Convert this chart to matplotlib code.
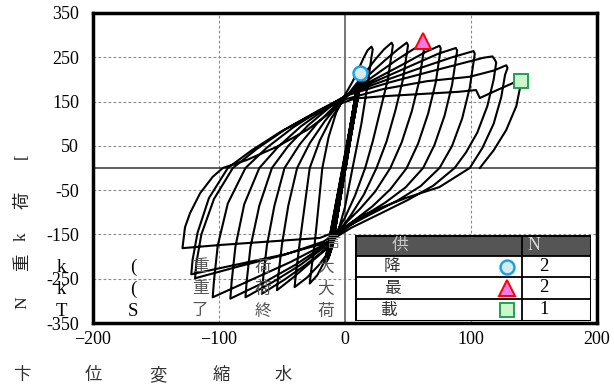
"""
荷重-水平変位 履歴曲線 (hysteresis loops) の再現
"""
import matplotlib
matplotlib.use("Agg")
import matplotlib.pyplot as plt
from matplotlib.patches import Rectangle

W, H = 614, 387

# ---- 履歴データ: 水平変位 [mm] / 荷重 [kN] ----
BAND_X = [0, 9, -10, 10, -11, 11, -12, 12, -13, 12, -14, 13, -15, 12]
BAND_Y = [0, 165, -165, 180, -180, 190, -190, 200, -198, 205, -205, 212, -210, 205]

D0_X = [12, 11, 7, 2, -3, -8, -13, -17, -22, -28]
D0_Y = [205, 185, 120, 40, -40, -120, -185, -215, -242, -261]

U1_X = [-28, -27, -24, -21, -18, -13, -7, 0, 6, 11, 15, 18, 21]
U1_Y = [-261, -235, -170, -85, 0, 70, 125, 165, 195, 225, 250, 266, 274]
D1_X = [21, 22, 21, 18, 13, 6, 0, -6, -13, -21, -30, -40]
D1_Y = [274, 268, 250, 190, 100, 0, -88, -148, -190, -220, -247, -269]

U2_X = [-40, -39, -36, -32, -28, -20, -11, -2, 7, 16, 24, 31, 37]
U2_Y = [-269, -240, -170, -85, 0, 62, 112, 150, 183, 215, 245, 268, 283]
D2_X = [37, 38, 37, 34, 28, 22, 16, 8, 0, -8, -16, -28, -41, -54]
D2_Y = [283, 277, 258, 200, 130, 60, 0, -62, -112, -152, -186, -215, -247, -276]

U3_X = [-54, -53, -50, -45, -38, -28, -16, -4, 8, 20, 32, 42, 49]
U3_Y = [-276, -245, -172, -85, 0, 56, 106, 147, 180, 213, 244, 268, 283]
D3_X = [49, 50, 49, 46, 40, 33, 25, 15, 5, -5, -15, -31, -48, -66]
D3_Y = [283, 277, 258, 200, 130, 60, 0, -60, -105, -145, -182, -218, -252, -284]

U4_X = [-66, -65, -62, -56, -48, -36, -22, -7, 8, 24, 40, 53, 62]
U4_Y = [-284, -250, -175, -85, 0, 53, 101, 143, 178, 210, 242, 266, 281]
D4_X = [62, 63, 62, 59, 53, 45, 36, 24, 12, 1, -8, -17, -36, -57, -79]
D4_Y = [281, 275, 256, 198, 128, 58, 0, -53, -92, -123, -150, -180, -220, -257, -292]

U5_X = [-79, -78, -75, -68, -58, -45, -29, -11, 7, 28, 48, 64, 75]
U5_Y = [-292, -255, -178, -85, 0, 50, 97, 140, 176, 207, 237, 262, 276]
D5_X = [75, 76, 75, 72, 66, 58, 49, 36, 22, 8, -5, -18, -39, -64, -91]
D5_Y = [276, 270, 251, 193, 123, 55, 0, -48, -86, -117, -146, -178, -218, -258, -295]

U6_X = [-91, -90, -87, -80, -68, -53, -35, -14, 6, 30, 54, 74, 88]
U6_Y = [-295, -258, -178, -82, 0, 48, 94, 137, 173, 203, 233, 258, 271]
D6_X = [88, 89, 88, 85, 79, 71, 62, 48, 32, 15, -1, -16, -43, -74, -105]
D6_Y = [271, 265, 246, 188, 118, 52, 0, -44, -78, -108, -140, -172, -212, -252, -292]

U7_X = [-105, -104, -101, -93, -79, -62, -41, -17, 5, 32, 60, 85, 102]
U7_Y = [-292, -255, -175, -80, 0, 46, 92, 135, 170, 198, 226, 250, 264]
D7_X = [102, 103, 102, 99, 93, 85, 75, 60, 42, 20, 0, -17, -48, -84, -119]
D7_Y = [264, 258, 239, 181, 112, 50, 0, -41, -73, -105, -135, -166, -196, -222, -249]

U8_X = [-119, -118, -114, -104, -89, -70, -47, -21, 4, 35, 68, 98, 110, 117]
U8_Y = [-249, -215, -150, -70, 0, 43, 88, 130, 166, 193, 218, 240, 249, 252]
D8A_X = [117, 119, 120, 118, 113, 105, 96, 87, 70, 50, 28, 5, -14, -48, -86, -122]
D8A_Y = [252, 244, 238, 200, 140, 80, 35, 0, -40, -72, -103, -135, -168, -195, -218, -240]

U8B_X = [-122, -121, -117, -108, -93, -74, -51, -25, 0, 30, 65, 99, 118, 128]
U8B_Y = [-240, -208, -146, -68, 0, 40, 82, 122, 155, 178, 196, 206, 220, 232]
D8_X = [128, 129, 127, 124, 118, 109, 99, 75, 49, 30, 12, -4, -20, -60, -100, -129]
D8_Y = [232, 226, 210, 160, 100, 45, 0, -43, -67, -88, -110, -140, -158, -166, -174, -181]

U9_X = [-129, -127, -123, -115, -105, -97, -78, -54, -30, -15, -4, 8, 30, 60, 90, 104, 107, 120, 135, 140]
U9_Y = [-181, -134, -102, -57, -20, 0, 18, 48, 86, 118, 145, 157, 162, 167, 172, 176, 158, 175, 194, 197]
D9_X = [140, 139, 136, 128, 118, 107]
D9_Y = [197, 183, 140, 86, 40, 0]

# 特性点
YIELD_PT = (12, 215)
MAX_PT = (62, 286)
FINAL_PT = (140, 197)

X_TICKS = [-200, -100, 0, 100, 200]
Y_TICKS = [-350, -250, -150, -50, 50, 150, 250, 350]

TABLE_HEAD = ["供", "N"]
TABLE_NAMES = ["降", "最", "載"]
TABLE_COUNTS = ["2", "2", "1"]

SERIF = "Liberation Serif"
CJK = ["Noto Sans CJK JP", "DejaVu Sans"]


def fx(px):
    return px / W


def fy(py):
    return 1 - py / H


fig = plt.figure(figsize=(W / 100, H / 100), dpi=100)
ax = fig.add_axes([fx(93), fy(323), (597 - 93) / W, (323 - 13) / H])

hx = (D0_X + U1_X + D1_X + U2_X + D2_X + U3_X + D3_X + U4_X + D4_X
      + U5_X + D5_X + U6_X + D6_X + U7_X + D7_X + U8_X + D8A_X + U8B_X + D8_X
      + U9_X + D9_X)
hy = (D0_Y + U1_Y + D1_Y + U2_Y + D2_Y + U3_Y + D3_Y + U4_Y + D4_Y
      + U5_Y + D5_Y + U6_Y + D6_Y + U7_Y + D7_Y + U8_Y + D8A_Y + U8B_Y + D8_Y
      + U9_Y + D9_Y)

# grid / zero lines
for v in [-250, -150, -50, 50, 150, 250]:
    ax.axhline(v, color="#8a8a8a", lw=0.8, ls=(0, (2.5, 2)), zorder=1)
for v in [-100, 100]:
    ax.axvline(v, color="#8a8a8a", lw=0.8, ls=(0, (2.5, 2)), zorder=1)
ax.axhline(0, color="#333333", lw=1.1, zorder=1)
ax.axvline(0, color="#777777", lw=1.4, zorder=1)

ax.plot(BAND_X, BAND_Y, color="black", lw=2.8, solid_joinstyle="round", zorder=3)
ax.plot(hx, hy, color="black", lw=1.5, solid_joinstyle="round", zorder=3)

ax.plot(*YIELD_PT, "o", ms=10, mfc="#d7eaf2", mec="#1aa3e8", mew=1.8, zorder=5)
ax.plot(*MAX_PT, "^", ms=11, mfc="#f07ae6", mec="#ff0000", mew=1.4, zorder=5)
ax.plot(*FINAL_PT, "s", ms=9.5, mfc="#ccf7cc", mec="#22a055", mew=1.4, zorder=5)

ax.set_xlim(-200, 200)
ax.set_ylim(-350, 350)
ax.set_xticks(X_TICKS)
ax.set_xticklabels([f"{v}".replace("-", "\u2212") for v in X_TICKS], fontfamily=SERIF, fontsize=13)
ax.set_yticks(Y_TICKS)
ax.set_yticklabels([str(v) for v in Y_TICKS], fontfamily=SERIF, fontsize=13)
ax.tick_params(axis="both", length=0)
ax.tick_params(axis="y", pad=10)
ax.tick_params(axis="x", pad=6)
for s in ax.spines.values():
    s.set_linewidth(2.5)

# y 軸ラベル (文字ごと, 90度回転)
for ch, py in zip(["[", "荷", "k", "重", "N"], [156, 200, 237, 262, 303]):
    fam = CJK if ord(ch) > 255 else [SERIF]
    fig.text(fx(22), fy(py), ch, rotation=90, ha="center", va="center",
             fontsize=12.5, family=fam, color="#222222")

# x 軸ラベル
for ch, px in zip(["卞", "位", "変", "縮", "水"], [22, 93, 158, 221, 283]):
    fig.text(fx(px), fy(375), ch, ha="center", va="center", fontsize=12.5,
             family=CJK, color="#333333")

# 表内の注記
rows = [
    (267, ["k", "(", "重", "荷", "大"]),
    (289, ["k", "(", "重", "荷", "大"]),
    (311, ["T", "S", "了", "終", "荷"]),
]
for py, chars in rows:
    for ch, px in zip(chars, [61, 133, 200, 263, 326]):
        if ord(ch) > 255:
            fig.text(fx(px), fy(py), ch, ha="center", va="center", fontsize=12,
                     family=CJK, color="#555555", zorder=6)
        else:
            fig.text(fx(px), fy(py), ch, ha="center", va="center", fontsize=13.5,
                     family=SERIF, color="black", zorder=6)
fig.text(fx(333), fy(243), "言", ha="center", va="center", fontsize=11,
         family=CJK, color="#777777", zorder=6)

# 凡例テーブル
tab = fig.add_axes([fx(355), fy(321), (591 - 355) / W, (321 - 235) / H])
tab.set_xlim(0, 236)
tab.set_ylim(0, 86)
tab.axis("off")
tab.add_patch(Rectangle((0, 0), 236, 86, facecolor="white", edgecolor="none"))
tab.add_patch(Rectangle((0, 65), 236, 21, facecolor="#555555", edgecolor="none"))
for yb in [65, 44, 22]:
    tab.plot([0, 236], [yb, yb], color="black", lw=1.3)
tab.plot([167, 167], [0, 86], color="black", lw=1.3)
tab.add_patch(Rectangle((0, 0), 236, 86, facecolor="none", edgecolor="black", lw=2.2))

tab.text(45, 75.5, TABLE_HEAD[0], ha="center", va="center", fontsize=12,
         family=CJK, color="#c8c8c8")
tab.text(179, 75.5, TABLE_HEAD[1], ha="center", va="center", fontsize=13,
         family=SERIF, color="#d8d8d8")
row_y = [54.5, 33, 11]
for name, cnt, yy, nx in zip(TABLE_NAMES, TABLE_COUNTS, row_y, [37, 37, 33]):
    tab.text(nx, yy, name, ha="center", va="center", fontsize=12, family=CJK, color="#333333")
    tab.text(189, yy, cnt, ha="center", va="center", fontsize=13.5, family=SERIF)
tab.plot(152, row_y[0], "o", ms=10, mfc="#d7eaf2", mec="#1aa3e8", mew=1.8)
tab.plot(152, row_y[1], "^", ms=11, mfc="#f07ae6", mec="#ff0000", mew=1.4)
tab.plot(152, row_y[2], "s", ms=9.5, mfc="#ccf7cc", mec="#22a055", mew=1.4)

fig.savefig("out.png", dpi=100)
